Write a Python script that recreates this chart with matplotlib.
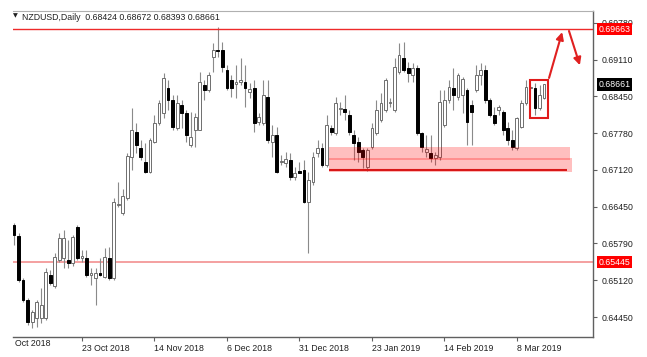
import matplotlib
matplotlib.use('Agg')
import matplotlib.pyplot as plt
import numpy as np
from matplotlib.transforms import blended_transform_factory
from matplotlib.patches import Rectangle

plt.rcParams['font.family'] = ['Liberation Sans', 'DejaVu Sans']

symbol_header = "NZDUSD,Daily  0.68424 0.68672 0.68393 0.68661"

opens = [0.6612, 0.6592, 0.6512, 0.6476, 0.6436, 0.6443, 0.6443, 0.6443, 0.6521, 0.6501,
         0.6548, 0.6552, 0.6548, 0.6543, 0.6608, 0.6552, 0.6552, 0.6521, 0.6516, 0.6525,
         0.6518, 0.6552, 0.6516, 0.6648, 0.6633, 0.6661, 0.6735, 0.6780, 0.6751, 0.6726,
         0.6708, 0.6762, 0.6796, 0.6815, 0.6860, 0.6838, 0.6787, 0.6829, 0.6815, 0.6757,
         0.6784, 0.6784, 0.6865, 0.6856, 0.6916, 0.6929, 0.6929, 0.6892, 0.6874, 0.6867,
         0.6871, 0.6871, 0.6853, 0.6860, 0.6798, 0.6796, 0.6843, 0.6762, 0.6775, 0.6726,
         0.6724, 0.6729, 0.6699, 0.6709, 0.6711, 0.6653, 0.6690, 0.6742, 0.6751, 0.6720,
         0.6787, 0.6778, 0.6822, 0.6822, 0.6811, 0.6775, 0.6762, 0.6747, 0.6717, 0.6753,
         0.6778, 0.6802, 0.6820, 0.6833, 0.6820, 0.6889, 0.6914, 0.6896, 0.6883, 0.6896,
         0.6778, 0.6744, 0.6742, 0.6733, 0.6735, 0.6793, 0.6838, 0.6860, 0.6843, 0.6847,
         0.6856, 0.6829, 0.6856, 0.6883, 0.6892, 0.6838, 0.6811, 0.6820, 0.6816, 0.6787,
         0.6766, 0.6751, 0.6789, 0.6833, 0.6860, 0.6860, 0.6824, 0.68424]
highs = [0.6615, 0.6597, 0.6516, 0.6479, 0.6458, 0.6476, 0.6498, 0.6534, 0.6530, 0.6561,
         0.6597, 0.6603, 0.6584, 0.6594, 0.6612, 0.6566, 0.6566, 0.6534, 0.6534, 0.6552,
         0.6570, 0.6572, 0.6661, 0.6690, 0.6677, 0.6742, 0.6824, 0.6796, 0.6766, 0.6760,
         0.6769, 0.6811, 0.6838, 0.6887, 0.6874, 0.6847, 0.6847, 0.6838, 0.6820, 0.6816,
         0.6815, 0.6889, 0.6874, 0.6889, 0.6941, 0.6970, 0.6943, 0.6901, 0.6883, 0.6901,
         0.6914, 0.6901, 0.6869, 0.6874, 0.6815, 0.6874, 0.6874, 0.6793, 0.6789, 0.6738,
         0.6744, 0.6742, 0.6717, 0.6726, 0.6729, 0.6708, 0.6744, 0.6766, 0.6760, 0.6811,
         0.6793, 0.6843, 0.6834, 0.6847, 0.6820, 0.6784, 0.6771, 0.6751, 0.6751, 0.6796,
         0.6838, 0.6851, 0.6878, 0.6842, 0.6914, 0.6941, 0.6943, 0.6907, 0.6905, 0.6901,
         0.6780, 0.6775, 0.6775, 0.6744, 0.6856, 0.6856, 0.6874, 0.6896, 0.6887, 0.6880,
         0.6860, 0.6838, 0.6901, 0.6905, 0.6901, 0.6842, 0.6825, 0.6829, 0.6820, 0.6798,
         0.6784, 0.6807, 0.6838, 0.6874, 0.6865, 0.6869, 0.6865, 0.68672]
lows = [0.6575, 0.6508, 0.6472, 0.6431, 0.6425, 0.6427, 0.6434, 0.6440, 0.6503, 0.6498,
        0.6545, 0.6534, 0.6534, 0.6537, 0.6548, 0.6545, 0.6518, 0.6503, 0.6467, 0.6519,
        0.6516, 0.6512, 0.6512, 0.6644, 0.6630, 0.6657, 0.6711, 0.6742, 0.6729, 0.6706,
        0.6706, 0.6760, 0.6793, 0.6805, 0.6820, 0.6784, 0.6784, 0.6787, 0.6762, 0.6753,
        0.6753, 0.6784, 0.6838, 0.6853, 0.6889, 0.6916, 0.6889, 0.6856, 0.6843, 0.6842,
        0.6865, 0.6825, 0.6842, 0.6780, 0.6793, 0.6793, 0.6760, 0.6735, 0.6706, 0.6720,
        0.6717, 0.6693, 0.6693, 0.6706, 0.6651, 0.6561, 0.6684, 0.6735, 0.6717, 0.6717,
        0.6775, 0.6775, 0.6811, 0.6802, 0.6775, 0.6729, 0.6726, 0.6715, 0.6709, 0.6749,
        0.6775, 0.6798, 0.6816, 0.6825, 0.6816, 0.6885, 0.6889, 0.6871, 0.6871, 0.6775,
        0.6744, 0.6735, 0.6726, 0.6720, 0.6729, 0.6789, 0.6833, 0.6820, 0.6838, 0.6815,
        0.6757, 0.6757, 0.6853, 0.6865, 0.6833, 0.6807, 0.6793, 0.6811, 0.6775, 0.6757,
        0.6747, 0.6747, 0.6787, 0.6829, 0.6856, 0.6811, 0.6820, 0.68393]
closes = [0.6594, 0.6512, 0.6476, 0.6436, 0.6454, 0.6472, 0.6467, 0.6527, 0.6507, 0.6554,
          0.6588, 0.6588, 0.6543, 0.6590, 0.6552, 0.6555, 0.6521, 0.6525, 0.6525, 0.6521,
          0.6554, 0.6516, 0.6653, 0.6650, 0.6664, 0.6737, 0.6784, 0.6757, 0.6735, 0.6708,
          0.6766, 0.6796, 0.6833, 0.6878, 0.6838, 0.6789, 0.6833, 0.6815, 0.6775, 0.6771,
          0.6807, 0.6871, 0.6856, 0.6883, 0.6929, 0.6927, 0.6898, 0.6860, 0.6860, 0.6871,
          0.6874, 0.6860, 0.6858, 0.6796, 0.6807, 0.6847, 0.6766, 0.6775, 0.6708, 0.6728,
          0.6731, 0.6699, 0.6706, 0.6705, 0.6653, 0.6693, 0.6735, 0.6751, 0.6720, 0.6793,
          0.6780, 0.6833, 0.6824, 0.6816, 0.6780, 0.6760, 0.6744, 0.6735, 0.6747, 0.6787,
          0.6820, 0.6833, 0.6874, 0.6834, 0.6898, 0.6920, 0.6892, 0.6887, 0.6896, 0.6778,
          0.6753, 0.6749, 0.6733, 0.6738, 0.6834, 0.6838, 0.6862, 0.6847, 0.6883, 0.6876,
          0.6798, 0.6816, 0.6883, 0.6892, 0.6838, 0.6811, 0.6796, 0.6825, 0.6784, 0.6766,
          0.6753, 0.6805, 0.6833, 0.6862, 0.6862, 0.6824, 0.6847, 0.68661]

tick_idx = [15, 31, 47, 63, 79, 95, 111]
tick_labels = ['23 Oct 2018', '14 Nov 2018', '6 Dec 2018', '31 Dec 2018',
               '23 Jan 2019', '14 Feb 2019', '8 Mar 2019']
first_label = 'Oct 2018'

price_ticks = [0.69780, 0.69110, 0.68450, 0.67780, 0.67120, 0.66450, 0.65790, 0.65120, 0.64450]
resistance = 0.69663
support = 0.65445
last_price = 0.68661
zone1 = (0.6729, 0.6753)
zone2 = (0.6708, 0.6733)
zone_line = 0.6711
zone_start = 69.5
box_price = (0.6805, 0.6874)

W, H = 647, 357
fig = plt.figure(figsize=(W / 100, H / 100), dpi=100)
ax = fig.add_axes([13 / W, 1 - 337 / H, 580 / W, 326 / H])
ax.set_xlim(-0.22, 127.8)
ax.set_ylim(0.64088, 0.69992)

o = np.array(opens); h = np.array(highs); l = np.array(lows); c = np.array(closes)
x = np.arange(len(o))
bull = c >= o
ax.vlines(x, l, h, color='#8a8a8a', lw=0.8, zorder=2)
bottoms = np.minimum(o, c)
heights = np.maximum(np.abs(c - o), 0.00005)
ax.bar(x[bull], heights[bull], bottom=bottoms[bull], width=0.62,
       facecolor='white', edgecolor='#6e6e6e', lw=0.7, zorder=3)
ax.bar(x[~bull], heights[~bull], bottom=bottoms[~bull], width=0.62,
       facecolor='black', edgecolor='black', lw=0.7, zorder=3)

# horizontal levels
ax.axhline(resistance, color='#ee2a2a', lw=1.0, zorder=4)
ax.axhline(support, color='#f29090', lw=1.2, zorder=1)

# support zone
ax.add_patch(Rectangle((zone_start, zone1[0]), 122.7 - zone_start, zone1[1] - zone1[0],
                       facecolor='#ff0000', alpha=0.25, edgecolor='none', zorder=4))
ax.add_patch(Rectangle((zone_start, zone2[0]), 123.2 - zone_start, zone2[1] - zone2[0],
                       facecolor='#ff0000', alpha=0.25, edgecolor='none', zorder=4))
ax.hlines(zone_line, zone_start, 122.1, color='#d81818', lw=1.5, zorder=5)

# box around last candles
ax.add_patch(Rectangle((113.9, box_price[0]), 4.0, box_price[1] - box_price[0],
                       facecolor='none', edgecolor='#e01b1b', lw=1.5, zorder=6))

# arrows
ax.annotate('', xy=(121.0, 0.6961), xytext=(118.1, 0.6878),
            arrowprops=dict(arrowstyle='-|>', color='#e02020', lw=1.5, mutation_scale=11,
                            shrinkA=0, shrinkB=0), annotation_clip=False)
ax.annotate('', xy=(124.9, 0.6901), xytext=(122.5, 0.6963),
            arrowprops=dict(arrowstyle='-|>', color='#e02020', lw=1.5, mutation_scale=11,
                            shrinkA=0, shrinkB=0), annotation_clip=False)

# axes styling
ax.spines['left'].set_visible(False)
ax.spines['top'].set_color('#b0b0b0')
ax.spines['top'].set_linewidth(0.8)
for s in ['right', 'bottom']:
    ax.spines[s].set_color('#606060')
    ax.spines[s].set_linewidth(1.0)

ax.yaxis.tick_right()
ax.set_yticks(price_ticks)
ax.set_yticklabels(['%.5f' % p for p in price_ticks])
ax.tick_params(axis='y', length=3, width=0.8, color='#606060', labelsize=6.3, pad=3,
               labelcolor='#202020')
ax.set_xticks(tick_idx)
ax.set_xticklabels(tick_labels)
ax.tick_params(axis='x', length=3, width=0.8, color='#606060', labelsize=6.3, pad=2,
               labelcolor='#202020')
for t in ax.get_xticklabels():
    t.set_ha('left')

# price labels on axis
tr = blended_transform_factory(ax.transAxes, ax.transData)
for val, bg in [(resistance, '#ff0000'), (support, '#ff0000'), (last_price, '#000000')]:
    ax.text(1.009, val, '%.5f' % val, transform=tr, color='white', fontsize=6.3,
            va='center', ha='left', clip_on=False, zorder=10,
            bbox=dict(boxstyle='square,pad=0.18', fc=bg, ec='none'))

# header
fig.text(13 / W, 1 - 16 / H, '\u25BC', fontsize=4.5, va='center', ha='left',
         family='DejaVu Sans', color='#202020')
fig.text(22 / W, 1 - 17 / H, symbol_header, fontsize=6.3, va='center', ha='left',
         color='#202020')
fig.text(15 / W, 1 - 344 / H, first_label, fontsize=6.3, va='center', ha='left',
         color='#202020')

fig.savefig('out.png', dpi=100, facecolor='white')
